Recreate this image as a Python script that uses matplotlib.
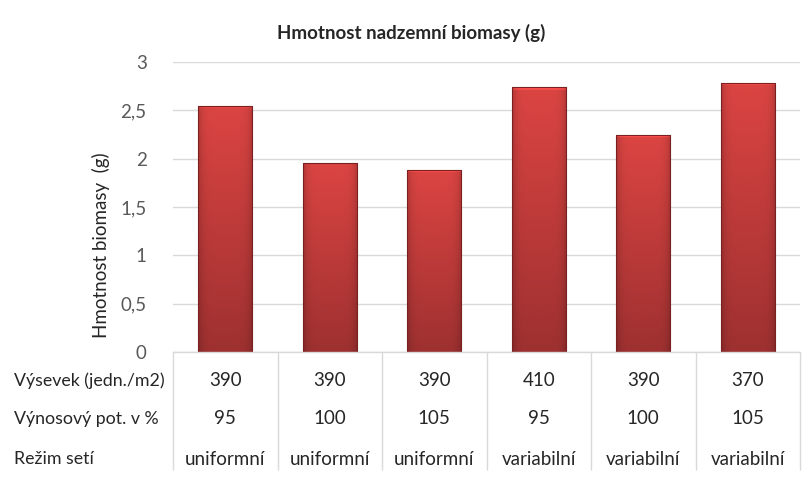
import numpy as np
import matplotlib.pyplot as plt
import matplotlib.transforms as mtransforms

plt.rcParams['font.family'] = ['Lato', 'DejaVu Sans']

# data
biomasa = [2.55, 1.96, 1.88, 2.74, 2.24, 2.785]
vysevek = ['390', '390', '390', '410', '390', '370']
vynos_pot = ['95', '100', '105', '95', '100', '105']
rezim = ['uniformní', 'uniformní', 'uniformní', 'variabilní', 'variabilní', 'variabilní']
row_labels = ['Výsevek (jedn./m2)', 'Výnosový pot. v %', 'Režim setí']
yticks = [0, 0.5, 1, 1.5, 2, 2.5, 3]
ytick_labels = ['0', '0,5', '1', '1,5', '2', '2,5', '3']

fig = plt.figure(figsize=(8.05, 4.84), dpi=100)
ax = fig.add_axes([173 / 805, 1 - 352 / 484, 627 / 805, 290 / 484])

x = np.arange(len(biomasa))
bars = ax.bar(x, biomasa, width=0.52, color='none', edgecolor='#7a2020',
              linewidth=0.8, zorder=3)

# gradient fill for each bar (vertical light->dark, darker side edges)
top_c = np.array([0.86, 0.27, 0.26])
bot_c = np.array([0.62, 0.19, 0.19])
ny, nx = 200, 60
tv = np.linspace(0, 1, ny)[:, None]
hx = np.linspace(-1, 1, nx)[None, :]
shade = 1 - 0.18 * np.abs(hx) ** 6
grad = (top_c[None, None, :] * (1 - tv[..., None]) + bot_c[None, None, :] * tv[..., None])
grad = grad * shade[..., None]
for b in bars:
    bx, by = b.get_x(), b.get_y()
    bw, bh = b.get_width(), b.get_height()
    img = grad.copy()
    # light bevel at the top
    nb = max(2, int(ny * 0.025 / bh))
    img[:nb] = np.clip(img[:nb] * 1.18, 0, 1)
    im = ax.imshow(img, extent=[bx, bx + bw, by, by + bh], aspect='auto',
                   origin='upper', zorder=2)
    im.set_clip_path(b)

ax.set_xlim(-0.5, len(biomasa) - 0.5)
ax.set_ylim(0, 3)
ax.set_yticks(yticks)
ax.set_yticklabels(ytick_labels, fontsize=13.5, color='#595959')
ax.set_xticks([])
ax.tick_params(axis='y', length=0, pad=19)
ax.grid(axis='y', color='#d9d9d9', linewidth=1, zorder=0)
ax.set_axisbelow(True)
for s in ax.spines.values():
    s.set_visible(False)

ax.set_ylabel('Hmotnost biomasy  (g)', fontsize=13.5, color='#262626')
ax.yaxis.set_label_coords(-0.10, 0.37)
fig.text(411 / 805, 1 - 33 / 484, 'Hmotnost nadzemní biomasy (g)', ha='center',
         va='center', fontsize=13.5, fontweight='bold', color='#262626')

# data table below the axis
trans = mtransforms.blended_transform_factory(ax.transData, ax.transAxes)
ax.plot([-0.5, len(biomasa) - 0.5], [0, 0], transform=trans, color='#d9d9d9',
        linewidth=1, clip_on=False, zorder=4)
ax.vlines(np.arange(len(biomasa) + 1) - 0.5, -0.407, 0, transform=trans,
          color='#d9d9d9', linewidth=1, clip_on=False)
row_y = [-0.10, -0.231, -0.369]
for ry, vals in zip(row_y, [vysevek, vynos_pot, rezim]):
    for xi, v in zip(x, vals):
        ax.text(xi, ry, v, transform=trans, ha='center', va='center',
                fontsize=13.5, color='#262626')
for ry, lab in zip(row_y, row_labels):
    fig.text(14 / 805, ax.transAxes.transform((0, ry))[1] / fig.bbox.height, lab,
             ha='left', va='center', fontsize=12.8, color='#262626')

fig.savefig('out.png', dpi=100)
